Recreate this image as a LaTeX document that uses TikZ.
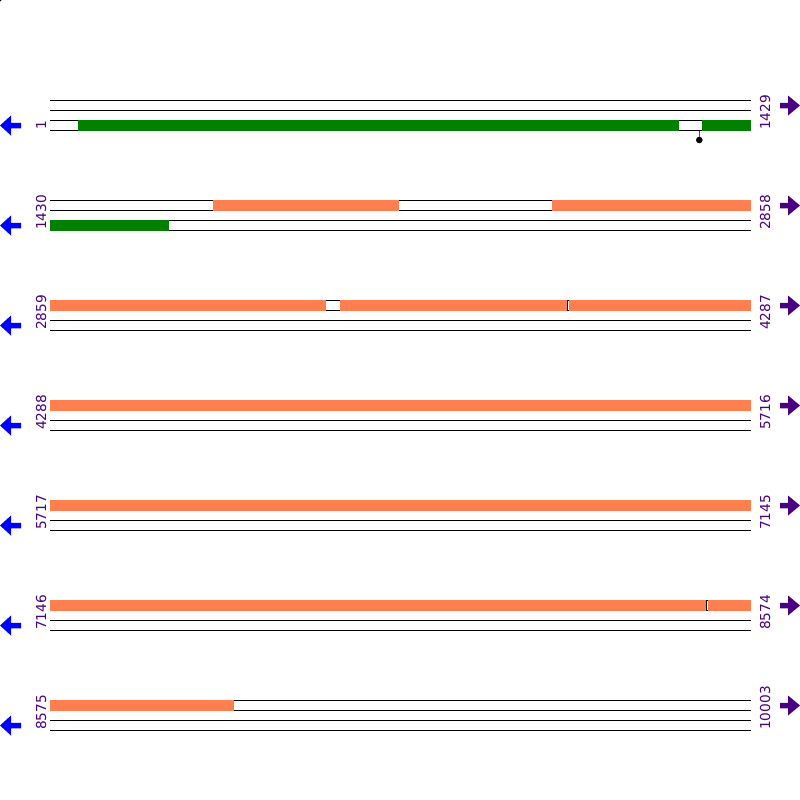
\documentclass[tikz,border=0pt]{standalone}
\usepackage{fontspec}
\setmainfont{DejaVu Sans}
\definecolor{lblc}{RGB}{75,0,130}
\definecolor{cdsc}{RGB}{255,127,80}
\definecolor{grnc}{RGB}{0,128,0}
\begin{document}
\begin{tikzpicture}[x=1pt,y=-1pt,
  trackline/.style={black,line width=1pt},
  numlabel/.style={text=lblc,font=\fontsize{13.7pt}{16pt}\selectfont,inner sep=0pt,anchor=base west,rotate=90},
  revarrow/.style={fill=blue},
  fwdarrow/.style={fill=lblc},
  gapline/.style={black,line width=0.8pt}]
\useasboundingbox (0,0) rectangle (800,800);
\fill[white] (0,0) rectangle (800,800);
\fill[black] (0,0) circle (1.6);
\newcommand{\featbox}[5]{\fill[#5] (#3,#1+10*#2-0.5) rectangle (#4,#1+10*#2+10.5);}
% rows
\foreach \i/\a/\b in {0/1/1429,1/1430/2858,2/2859/4287,3/4288/5716,4/5717/7145,5/7146/8574,6/8575/10003}{
  \pgfmathsetmacro\yy{100+100*\i}
  \foreach \k in {0,1,2,3}{\draw[trackline] (50,\yy+10*\k) -- (751,\yy+10*\k);}
  \node[numlabel] (ls\i) at (46,\yy+30) {\a};
  \node[numlabel] (le\i) at (770,\yy+30) {\b};
  \fill[revarrow] (0,\yy+25.5) -- (11,\yy+15.5) -- (11,\yy+22.75) -- (21,\yy+22.75) -- (21,\yy+28.25) -- (11,\yy+28.25) -- (11,\yy+35.5) -- cycle;
  \fill[fwdarrow] (800,\yy+5.5) -- (788,\yy-4.5) -- (788,\yy+2.75) -- (780,\yy+2.75) -- (780,\yy+8.25) -- (788,\yy+8.25) -- (788,\yy+15.5) -- cycle;
}
% row 1
\featbox{100}{2}{78}{679}{grnc}
\featbox{100}{2}{702}{751}{grnc}
\coordinate (stemtop) at (699.3,131);
\node[circle,fill=black,inner sep=0pt,minimum size=6.6pt] (site) at (699.3,140) {};
\draw[red,line width=1pt] (stemtop) -- (site);
% row 2
\featbox{200}{0}{213}{399}{cdsc}
\featbox{200}{0}{552}{751}{cdsc}
\featbox{200}{2}{50}{169}{grnc}
% row 3
\featbox{300}{0}{50}{326}{cdsc}
\featbox{300}{0}{340}{567.4}{cdsc}
\featbox{300}{0}{569.2}{751}{cdsc}
\draw[gapline] (567.8,300) -- (567.8,311);
% row 4
\featbox{400}{0}{50}{751}{cdsc}
% row 5
\featbox{500}{0}{50}{751}{cdsc}
% row 6
\featbox{600}{0}{50}{705.8}{cdsc}
\featbox{600}{0}{707.6}{751}{cdsc}
\draw[gapline] (706.2,600) -- (706.2,611);
% row 7
\featbox{700}{0}{50}{234}{cdsc}
\end{tikzpicture}
\end{document}
